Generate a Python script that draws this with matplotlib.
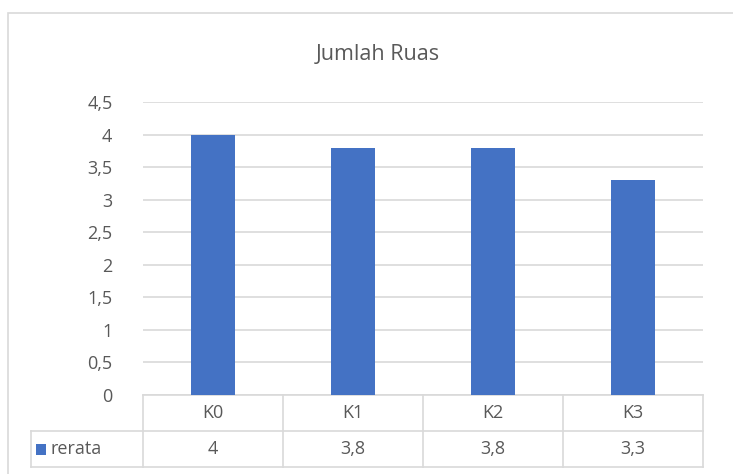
import matplotlib.pyplot as plt
from matplotlib.patches import Rectangle
from matplotlib.transforms import blended_transform_factory

categories = ['K0', 'K1', 'K2', 'K3']
rerata = [4, 3.8, 3.8, 3.3]
value_labels = ['4', '3,8', '3,8', '3,3']
y_ticks = [0, 0.5, 1, 1.5, 2, 2.5, 3, 3.5, 4, 4.5]
y_tick_labels = ['0', '0,5', '1', '1,5', '2', '2,5', '3', '3,5', '4', '4,5']
series_name = 'rerata'

W, H = 733, 474
BLUE = '#4472C4'
GRID = '#D9D9D9'
TEXT = '#595959'
plt.rcParams['font.family'] = ['Open Sans', 'DejaVu Sans']

fig = plt.figure(figsize=(W / 100, H / 100), dpi=100)

# chart area border (cut off on right and bottom like the screenshot)
fig.add_artist(Rectangle((8 / W, 1 - 480 / H), 740 / W, 467 / H,
                         transform=fig.transFigure, fill=False,
                         edgecolor=GRID, linewidth=1.2))

# plot area in pixels: x 143..703, y 102..395
ax = fig.add_axes([143 / W, 1 - 395 / H, 560 / W, 293 / H])
x = list(range(len(categories)))
ax.bar(x, rerata, width=0.31, color=BLUE, zorder=3)
ax.set_xlim(-0.5, len(categories) - 0.5)
ax.set_ylim(0, 4.5)
ax.set_yticks(y_ticks)
ax.set_yticklabels(y_tick_labels, fontsize=13, color=TEXT)
ax.tick_params(axis='y', length=0, pad=22)
ax.set_xticks([])
for s in ax.spines.values():
    s.set_visible(False)
ax.grid(axis='y', color=GRID, linewidth=1.2, zorder=0)

fig.text(378 / W, 1 - 55 / H, 'Jumlah Ruas', ha='center', va='center',
         fontsize=15.5, color=TEXT)

# data table below the plot
tr = blended_transform_factory(ax.transData, ax.transAxes)
r = 36 / 293
left = -0.5 - 112 / 140
right = len(categories) - 0.5
lw = 1.2
ax.plot([-0.5, right], [0, 0], color=GRID, lw=lw, transform=tr, clip_on=False)
for yy in (-r, -2 * r):
    ax.plot([left, right], [yy, yy], color=GRID, lw=lw, transform=tr, clip_on=False)
for i in range(len(categories) + 1):
    ax.plot([i - 0.5, i - 0.5], [0, -2 * r], color=GRID, lw=lw, transform=tr, clip_on=False)
ax.plot([left, left], [-r, -2 * r], color=GRID, lw=lw, transform=tr, clip_on=False)

for i, (c, v) in enumerate(zip(categories, value_labels)):
    ax.text(i, -r / 2, c, ha='center', va='center', fontsize=13, color=TEXT, transform=tr)
    ax.text(i, -1.5 * r, v, ha='center', va='center', fontsize=13, color=TEXT, transform=tr)

ax.add_patch(Rectangle((left + 5 / 140, -1.5 * r - 5.5 / 293), 10 / 140, 11 / 293,
                       facecolor=BLUE, edgecolor='none', transform=tr, clip_on=False))
ax.text(left + 19 / 140, -1.5 * r, series_name, ha='left', va='center',
        fontsize=13, color=TEXT, transform=tr)

fig.savefig('out.png', dpi=100)
